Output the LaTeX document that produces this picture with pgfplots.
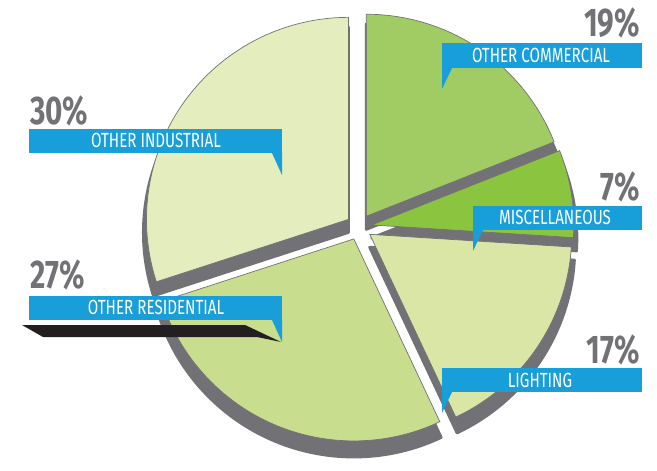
\documentclass[border=0pt]{standalone}
\usepackage{pgfplots}
\pgfplotsset{compat=1.18}
\usepackage{pgfplotstable}
\usepackage{fontspec}
\setmainfont{Fira Sans}[FakeStretch=0.74]
\definecolor{shadowgrey}{RGB}{114,113,118}
\definecolor{pctgrey}{RGB}{114,113,118}
\definecolor{labblue}{RGB}{24,158,217}
\definecolor{cComm}{RGB}{160,204,99}
\definecolor{cMisc}{RGB}{139,197,63}
\definecolor{cLight}{RGB}{217,230,165}
\definecolor{cRes}{RGB}{200,222,142}
\definecolor{cInd}{RGB}{228,237,190}
\definecolor{blk}{RGB}{35,31,32}

\pgfplotstableread{
label pct
{OTHER COMMERCIAL} 19
MISCELLANEOUS 7
LIGHTING 17
{OTHER RESIDENTIAL} 27
{OTHER INDUSTRIAL} 30
}\piedata

\begin{document}
\begin{tikzpicture}
\begin{axis}[x=1pt, y=1pt, xmin=0, xmax=657, ymin=0, ymax=469,
  hide axis, clip=false, scale only axis]
\path (axis cs:0,0) rectangle (axis cs:657,469);
\pgfplotsextra{
  % shadows
  \gdef\startang{90}
  \foreach \i in {0,...,4}{
    \pgfplotstablegetelem{\i}{pct}\of\piedata
    \pgfmathsetmacro{\sweep}{3.6*\pgfplotsretval}
    \pgfmathsetmacro{\endang}{\startang-\sweep}
    \pgfmathsetmacro{\midang}{\startang-\sweep/2}
    \pgfmathsetmacro{\ax}{359+13*cos(\midang)}
    \pgfmathsetmacro{\ay}{242+13*sin(\midang)-13}
    \filldraw[shadowgrey, line width=3pt, line join=round] (axis cs:\ax,\ay) -- ++(\startang:205pt)
      arc[start angle=\startang, end angle=\endang, radius=205pt] -- cycle;
    \xdef\startang{\endang}
  }
  % slices
  \gdef\startang{90}
  \foreach \i/\col in {0/cComm,1/cMisc,2/cLight,3/cRes,4/cInd}{
    \pgfplotstablegetelem{\i}{pct}\of\piedata
    \pgfmathsetmacro{\sweep}{3.6*\pgfplotsretval}
    \pgfmathsetmacro{\endang}{\startang-\sweep}
    \pgfmathsetmacro{\midang}{\startang-\sweep/2}
    \pgfmathsetmacro{\ax}{359+13*cos(\midang)}
    \pgfmathsetmacro{\ay}{242+13*sin(\midang)}
    \filldraw[fill=\col, draw=shadowgrey, line width=0.7pt] (axis cs:\ax,\ay) -- ++(\startang:202pt)
      arc[start angle=\startang, end angle=\endang, radius=202pt] -- cycle;
    \xdef\startang{\endang}
  }
}
% ---- labels ----
\tikzset{pct/.style={text=pctgrey, font=\fontsize{40}{40}\selectfont\bfseries, inner sep=0pt},
         lab/.style={text=white, font=\fontsize{20.5}{20}\selectfont, inner sep=0pt, anchor=base}}
% Other industrial (left)
\fill[labblue] (axis cs:29,316) rectangle (axis cs:282,340);
\fill[labblue] (axis cs:272,316) -- (axis cs:282,316) -- (axis cs:282,294) -- cycle;
\node[lab] at (axis cs:156,321) {OTHER INDUSTRIAL};
\node[pct, anchor=base west] at (axis cs:30,344) {30\%};
% Other residential (left)
\fill[blk] (axis cs:22,144) -- (axis cs:245,144) -- (axis cs:281,127) -- (axis cs:257,132) -- (axis cs:43,132) -- cycle;
\fill[labblue] (axis cs:29,149) rectangle (axis cs:282,173);
\fill[labblue] (axis cs:272,149) -- (axis cs:282,149) -- (axis cs:282,127) -- cycle;
\node[lab] at (axis cs:156,154) {OTHER RESIDENTIAL};
\node[pct, anchor=base west] at (axis cs:30,180) {27\%};
% Other commercial (right)
\fill[labblue] (axis cs:442,401) rectangle (axis cs:642,426);
\fill[labblue] (axis cs:442,401) -- (axis cs:452,401) -- (axis cs:442,380) -- cycle;
\node[lab] at (axis cs:541,406) {OTHER COMMERCIAL};
\node[pct, anchor=base east] at (axis cs:640,432) {19\%};
% Miscellaneous
\fill[labblue] (axis cs:473,239) rectangle (axis cs:642,263);
\fill[labblue] (axis cs:473,239) -- (axis cs:483,239) -- (axis cs:473,218) -- cycle;
\node[lab] at (axis cs:555,244) {MISCELLANEOUS};
\node[pct, anchor=base east] at (axis cs:640,268) {7\%};
% Lighting
\fill[labblue] (axis cs:442,77) rectangle (axis cs:642,101);
\fill[labblue] (axis cs:442,77) -- (axis cs:452,77) -- (axis cs:442,56) -- cycle;
\node[lab] at (axis cs:540,82) {LIGHTING};
\node[pct, anchor=base east] at (axis cs:640,106) {17\%};
\end{axis}
\end{tikzpicture}
\end{document}
